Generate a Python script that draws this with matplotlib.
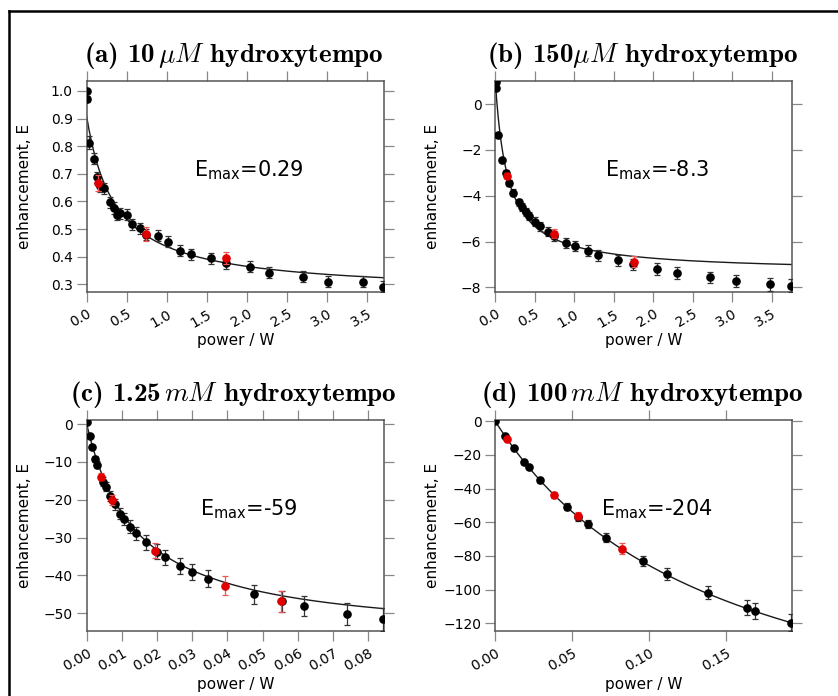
import os
import numpy as np
import matplotlib
matplotlib.use("Agg")
import matplotlib.pyplot as plt
from matplotlib.lines import Line2D
from matplotlib.font_manager import FontProperties

# ---------------- data ----------------
titles = [r"(a) 10$\,\mu M$ hydroxytempo",
          r"(b) 150$\mu M$ hydroxytempo",
          r"(c) 1.25$\,mM$ hydroxytempo",
          r"(d) 100$\,mM$ hydroxytempo"]
emax_labels = ["0.29", "-8.3", "-59", "-204"]

a_x = [0.0, 0.0, 0.034, 0.088, 0.13, 0.17, 0.22, 0.296, 0.34, 0.38, 0.42, 0.505, 0.567, 0.66,
       0.74, 0.89, 1.01, 1.165, 1.30, 1.55, 1.74, 2.04, 2.28, 2.70, 3.005, 3.45, 3.70]
a_y = [1.0, 0.970, 0.813, 0.754, 0.687, 0.655, 0.647, 0.597, 0.576, 0.551, 0.557, 0.551, 0.518, 0.503,
       0.480, 0.476, 0.454, 0.421, 0.409, 0.394, 0.376, 0.364, 0.342, 0.327, 0.309, 0.309, 0.291]
a_err = [0.005, 0.01, 0.025, 0.02, 0.02, 0.02, 0.02, 0.02, 0.02, 0.02, 0.02, 0.02, 0.02, 0.02,
         0.02, 0.02, 0.02, 0.02, 0.02, 0.02, 0.02, 0.02, 0.02, 0.02, 0.02, 0.02, 0.02]
a_rx = [0.145, 0.74, 1.74]
a_ry = [0.666, 0.482, 0.394]
a_rerr = [0.03, 0.025, 0.022]

b_x = [0.005, 0.005, 0.038, 0.089, 0.13, 0.169, 0.224, 0.295, 0.338, 0.392, 0.426, 0.506, 0.565, 0.662,
       0.747, 0.895, 1.013, 1.169, 1.304, 1.553, 1.743, 2.046, 2.295, 2.72, 3.04, 3.48, 3.747]
b_y = [0.95, 0.7, -1.35, -2.45, -3.0, -3.44, -3.87, -4.29, -4.48, -4.70, -4.89, -5.14, -5.33, -5.57,
       -5.76, -6.06, -6.20, -6.40, -6.59, -6.81, -7.0, -7.20, -7.37, -7.57, -7.71, -7.86, -7.92]
b_err = [0.05, 0.05, 0.08, 0.1, 0.12, 0.13, 0.15, 0.15, 0.17, 0.18, 0.18, 0.2, 0.2, 0.2,
         0.22, 0.22, 0.22, 0.23, 0.24, 0.24, 0.25, 0.26, 0.26, 0.26, 0.27, 0.28, 0.28]
b_rx = [0.148, 0.747, 1.755]
b_ry = [-3.13, -5.65, -6.88]
b_rerr = [0.1, 0.2, 0.25]

c_x = [0.0002, 0.0009, 0.0015, 0.0025, 0.0029, 0.0047, 0.0054, 0.0066, 0.008, 0.0095, 0.0107, 0.0123,
       0.0141, 0.0169, 0.020, 0.0223, 0.0264, 0.0298, 0.0345, 0.0476, 0.0555, 0.0618, 0.0741, 0.0843]
c_y = [0.4, -3.3, -6.1, -9.3, -10.8, -15.2, -16.6, -19.0, -21.2, -23.7, -25.2, -27.1,
       -28.9, -31.3, -33.7, -35.2, -37.6, -39.1, -40.9, -45.0, -46.9, -48.1, -50.2, -51.6]
c_err = [0.2, 0.4, 0.6, 0.8, 0.9, 1.1, 1.2, 1.3, 1.4, 1.5, 1.6, 1.7,
         1.8, 1.9, 2.0, 2.0, 2.1, 2.2, 2.3, 2.5, 2.7, 2.7, 2.9, 3.0]
c_rx = [0.0041, 0.0073, 0.0195, 0.0394, 0.0551]
c_ry = [-13.9, -20.1, -33.5, -42.7, -46.8]
c_rerr = [0.9, 1.3, 2.0, 2.5, 2.8]

d_x = [0.0, 0.0065, 0.0121, 0.0188, 0.0216, 0.029, 0.0463, 0.0537, 0.0604, 0.0721, 0.0961,
       0.1115, 0.1379, 0.1632, 0.1686, 0.1922]
d_y = [0.0, -8.5, -15.6, -24.2, -27.3, -35.0, -50.7, -57.0, -61.2, -69.3, -83.0,
       -90.7, -101.8, -110.7, -112.7, -119.6]
d_err = [0.3, 0.8, 1.0, 1.2, 1.3, 1.5, 2.0, 2.2, 2.4, 2.7, 3.2, 3.5, 4.0, 4.5, 4.6, 5.0]
d_rx = [0.0076, 0.0383, 0.0537, 0.0823]
d_ry = [-10.3, -44.0, -56.0, -75.6]
d_rerr = [1.0, 1.8, 2.2, 3.0]

# fit curve parameters: E(P) = e_inf + (e0 - e_inf) * h / (P + h)
fit_e0 = [0.907, 1.0, 0.0, 0.0]
fit_einf = [0.267, -7.34, -57.0, -210.0]
fit_h = [0.36, 0.158, 0.0142, 0.145]

xlims = [(0, 3.71), (0, 3.755), (0, 0.0845), (0, 0.1927)]
ylims = [(0.273, 1.037), (-8.19, 1.02), (-54.7, 1.06), (-124.6, 0.77)]
xticks = [[0.0, 0.5, 1.0, 1.5, 2.0, 2.5, 3.0, 3.5],
          [0.0, 0.5, 1.0, 1.5, 2.0, 2.5, 3.0, 3.5],
          [0.00, 0.01, 0.02, 0.03, 0.04, 0.05, 0.06, 0.07, 0.08],
          [0.00, 0.05, 0.10, 0.15]]
xticklabels = [["0.0", "0.5", "1.0", "1.5", "2.0", "2.5", "3.0", "3.5"],
               ["0.0", "0.5", "1.0", "1.5", "2.0", "2.5", "3.0", "3.5"],
               ["0.00", "0.01", "0.02", "0.03", "0.04", "0.05", "0.06", "0.07", "0.08"],
               ["0.00", "0.05", "0.10", "0.15"]]
yticks = [[0.3, 0.4, 0.5, 0.6, 0.7, 0.8, 0.9, 1.0],
          [-8, -6, -4, -2, 0],
          [-50, -40, -30, -20, -10, 0],
          [-120, -100, -80, -60, -40, -20, 0]]
yticklabels = [["0.3", "0.4", "0.5", "0.6", "0.7", "0.8", "0.9", "1.0"],
               ["\u22128", "\u22126", "\u22124", "\u22122", "0"],
               ["\u221250", "\u221240", "\u221230", "\u221220", "\u221210", "0"],
               ["\u2212120", "\u2212100", "\u221280", "\u221260", "\u221240", "\u221220", "0"]]

black_sets = [(a_x, a_y, a_err), (b_x, b_y, b_err), (c_x, c_y, c_err), (d_x, d_y, d_err)]
red_sets = [(a_rx, a_ry, a_rerr), (b_rx, b_ry, b_rerr), (c_rx, c_ry, c_rerr), (d_rx, d_ry, d_rerr)]

# ---------------- figure ----------------
plt.rcParams['font.family'] = ['DejaVu Sans']
fig = plt.figure(figsize=(8.38, 6.96), dpi=100)

cmb_path = os.path.join(matplotlib.get_data_path(), 'fonts', 'ttf', 'cmb10.ttf')
if os.path.exists(cmb_path):
    title_fp = FontProperties(fname=cmb_path, size=19.5)
else:
    title_fp = FontProperties(family='DejaVu Serif', weight='bold', size=17)

W, H = 838.0, 696.0
boxes = [(86.7, 80.7, 384.0, 291.7), (495.3, 80.7, 792.0, 291.7),
         (86.7, 420.0, 384.0, 631.0), (495.3, 420.0, 792.0, 631.0)]

spine_col = '#555555'
tick_col = '#888888'

for i in range(4):
    l, t, r, b = boxes[i]
    ax = fig.add_axes([l / W, 1 - b / H, (r - l) / W, (b - t) / H])
    x0, x1 = xlims[i]
    px = np.linspace(x0, x1, 400)
    fit = fit_einf[i] + (fit_e0[i] - fit_einf[i]) * fit_h[i] / (px + fit_h[i])
    ax.plot(px, fit, color='#1a1a1a', lw=1.0, zorder=2)

    bx, by, be = black_sets[i]
    ax.errorbar(bx, by, yerr=be, fmt='o', color='black', ms=5.2, mec='black',
                ecolor='#333333', elinewidth=0.9, capsize=2.5, capthick=0.9, zorder=3)
    rx, ry, re_ = red_sets[i]
    ax.errorbar(rx, ry, yerr=re_, fmt='o', color='#e00000', ms=5.2, mec='#e00000',
                ecolor='#ee5555', elinewidth=0.9, capsize=2.5, capthick=0.9, zorder=4)

    ax.set_xlim(*xlims[i])
    ax.set_ylim(*ylims[i])
    ax.set_xticks(xticks[i])
    ax.set_xticklabels(xticklabels[i], rotation=30, ha='right', rotation_mode='anchor')
    ax.set_yticks(yticks[i])
    ax.set_yticklabels(yticklabels[i])
    ax.tick_params(direction='out', length=7, width=0.9, color=tick_col,
                   labelsize=10, pad=3, top=True, right=True)
    ax.tick_params(axis='x', pad=4)
    for s in ax.spines.values():
        s.set_color(spine_col)
        s.set_linewidth(1.1)

    ax.set_xlabel("power / W", fontsize=11, labelpad=2)
    ax.set_ylabel("enhancement, E", fontsize=11)
    ax.yaxis.set_label_coords(-0.185, 0.5)

    ax.text(0.495, 1.088, titles[i], transform=ax.transAxes, ha='center', va='baseline',
            fontproperties=title_fp, math_fontfamily='cm')
    ax.text(0.545, 0.577, r"E$_{\mathrm{max}}$=" + emax_labels[i], transform=ax.transAxes,
            ha='center', va='center', fontsize=15, math_fontfamily='dejavusans')

# figure border (top and left edges visible)
bx0 = 8.5 / W
by0 = 1 - 11.0 / H
fig.add_artist(Line2D([bx0, 1.0], [by0, by0], transform=fig.transFigure, color='black', lw=1.8))
fig.add_artist(Line2D([bx0, bx0], [0.0, by0], transform=fig.transFigure, color='black', lw=1.8))

fig.savefig("out.png", dpi=100)
